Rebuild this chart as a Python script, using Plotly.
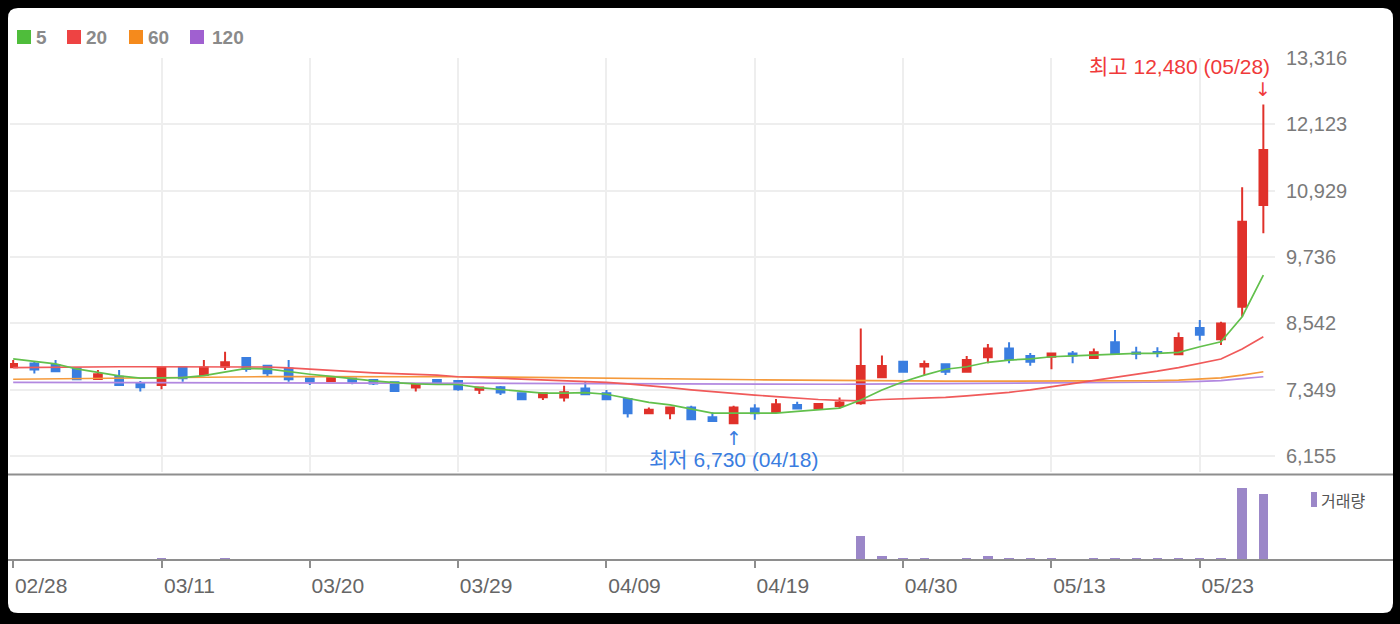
import plotly.graph_objects as go

# trading days shown on the chart (2024)
dates = ["02-28", "02-29",
         "03-04", "03-05", "03-06", "03-07", "03-08", "03-11", "03-12", "03-13", "03-14", "03-15",
         "03-18", "03-19", "03-20", "03-21", "03-22", "03-25", "03-26", "03-27", "03-28", "03-29",
         "04-01", "04-02", "04-03", "04-04", "04-05", "04-08", "04-09", "04-11", "04-12", "04-15",
         "04-16", "04-17", "04-18", "04-19", "04-22", "04-23", "04-24", "04-25", "04-26", "04-29",
         "04-30", "05-02", "05-03", "05-07", "05-08", "05-09", "05-10", "05-13", "05-14", "05-16",
         "05-17", "05-20", "05-21", "05-22", "05-23", "05-24", "05-27", "05-28"]

open_ = [7750, 7820, 7790, 7730, 7540, 7580, 7450, 7430, 7745, 7610,
         7760, 7915, 7780, 7730, 7550, 7505, 7550, 7520, 7480, 7385,
         7520, 7505, 7345, 7390, 7285, 7210, 7205, 7370, 7285, 7180,
         6925, 6925, 7025, 6850, 6745, 7010, 6945, 7070, 7010, 7055,
         7105, 7570, 7850, 7765, 7805, 7670, 7930, 8090, 7955, 7940,
         8000, 7915, 8200, 8015, 8025, 7985, 8455, 8255, 8840, 10670]
high = [7880, 7850, 7880, 7740, 7700, 7700, 7505, 7745, 7750, 7880,
        8030, 7915, 7790, 7880, 7550, 7570, 7555, 7525, 7500, 7445,
        7525, 7520, 7390, 7415, 7300, 7290, 7420, 7480, 7340, 7185,
        7025, 7030, 7060, 6940, 7060, 7085, 7180, 7130, 7095, 7205,
        8450, 7960, 7860, 7870, 7810, 7955, 8170, 8200, 8005, 8005,
        8045, 8090, 8420, 8120, 8110, 8375, 8600, 8570, 10990, 12480]
low = [7740, 7640, 7680, 7530, 7540, 7430, 7315, 7355, 7490, 7610,
       7700, 7670, 7580, 7490, 7430, 7500, 7445, 7430, 7320, 7315,
       7450, 7330, 7270, 7250, 7170, 7160, 7135, 7260, 7170, 6845,
       6920, 6815, 6810, 6780, 6730, 6805, 6940, 7005, 7000, 7010,
       7075, 7565, 7665, 7610, 7610, 7665, 7825, 7825, 7780, 7715,
       7825, 7910, 7985, 7895, 7930, 7965, 8230, 8150, 8660, 10160]
close = [7810, 7710, 7680, 7535, 7625, 7430, 7390, 7745, 7555, 7745,
         7840, 7720, 7645, 7535, 7490, 7565, 7490, 7460, 7325, 7445,
         7460, 7355, 7385, 7295, 7175, 7285, 7300, 7265, 7175, 6925,
         6985, 7025, 6815, 6785, 7025, 6925, 7085, 7010, 7090, 7115,
         7775, 7775, 7670, 7810, 7670, 7880, 8090, 7895, 7850, 8000,
         7960, 8020, 7990, 7995, 8005, 8275, 8335, 8540, 10370, 11660]

volume = [60, 50, 40, 70, 50, 60, 40, 200, 60, 50,
          210, 60, 50, 70, 40, 30, 40, 30, 60, 40,
          30, 40, 30, 40, 50, 30, 60, 40, 30, 70,
          40, 50, 60, 40, 80, 50, 60, 40, 50, 70,
          2400, 420, 230, 230, 80, 230, 400, 230, 90, 230,
          80, 230, 230, 100, 90, 230, 230, 230, 7200, 6600]

ma5 = [7900, 7850, 7810, 7720, 7660, 7595, 7555, 7555, 7565, 7600,
       7670, 7730, 7720, 7670, 7625, 7585, 7540, 7505, 7475, 7450,
       7440, 7440, 7385, 7355, 7315, 7285, 7285, 7295, 7265, 7195,
       7120, 7075, 7000, 6925, 6925, 6925, 6925, 6955, 6985, 7015,
       7160, 7342, 7490, 7610, 7715, 7760, 7840, 7880, 7900, 7940,
       7955, 7970, 7985, 8000, 8000, 8020, 8120, 8210, 8660, 9410]
ma20 = [7745, 7750, 7755, 7760, 7760, 7760, 7760, 7760, 7760, 7760,
        7765, 7765, 7755, 7740, 7715, 7690, 7670, 7650, 7635, 7620,
        7610, 7580, 7565, 7550, 7535, 7520, 7505, 7490, 7480, 7450,
        7420, 7385, 7345, 7310, 7280, 7250, 7222, 7195, 7170, 7155,
        7145, 7170, 7180, 7195, 7210, 7235, 7265, 7300, 7345, 7400,
        7460, 7520, 7570, 7620, 7680, 7745, 7820, 7900, 8080, 8300]
ma60 = [7535, 7540, 7545, 7550, 7555, 7560, 7565, 7568, 7572, 7575,
        7578, 7580, 7582, 7583, 7584, 7585, 7585, 7585, 7584, 7583,
        7582, 7580, 7577, 7574, 7570, 7566, 7562, 7558, 7554, 7550,
        7546, 7542, 7538, 7534, 7530, 7526, 7522, 7518, 7514, 7510,
        7507, 7504, 7502, 7500, 7500, 7500, 7500, 7500, 7500, 7500,
        7500, 7500, 7502, 7505, 7510, 7520, 7535, 7560, 7610, 7670]
ma120 = [7480, 7479, 7478, 7477, 7476, 7475, 7474, 7473, 7472, 7471,
         7470, 7469, 7468, 7467, 7466, 7464, 7462, 7460, 7458, 7456,
         7454, 7452, 7450, 7448, 7447, 7446, 7445, 7444, 7443, 7442,
         7441, 7440, 7440, 7440, 7440, 7440, 7441, 7442, 7443, 7445,
         7447, 7449, 7451, 7453, 7455, 7457, 7459, 7461, 7463, 7465,
         7467, 7469, 7471, 7474, 7478, 7485, 7495, 7510, 7545, 7580]

price_ticks = [6155, 7349, 8542, 9736, 10929, 12123, 13316]
tick_dates = ["02-28", "03-11", "03-20", "03-29", "04-09", "04-19", "04-30", "05-13", "05-23"]
tick_text = [d.replace("-", "/") for d in tick_dates]

ma_names = ["5", "20", "60", "120"]
ma_colors = ["#62c04c", "#f05a5a", "#f59a3c", "#b288e0"]
legend_colors = ["#4fbd3b", "#ee4343", "#f58a1c", "#a060d0"]
RED = "#e0312a"
BLUE = "#3a7ee0"
VOL = "#9b87c8"
FONT = "Liberation Sans, Noto Sans CJK KR, sans-serif"

# page geometry (pixels) used for placing layout decorations
L, R, T, B, W, H = 10, 125, 58, 64, 1400, 624
PW, PH = W - L - R, H - T - B


def px(x):
    return (x - L) / PW


def py(y):
    return (H - B - y) / PH


fig = go.Figure()

for vals, col in zip([ma120, ma60, ma20, ma5], ma_colors[::-1]):
    fig.add_trace(go.Scatter(x=dates, y=vals, mode="lines", line=dict(color=col, width=1.7),
                             hoverinfo="skip", showlegend=False))

fig.add_trace(go.Candlestick(
    x=dates, open=open_, high=high, low=low, close=close,
    increasing=dict(line=dict(color=RED, width=2), fillcolor=RED),
    decreasing=dict(line=dict(color=BLUE, width=2), fillcolor=BLUE),
    whiskerwidth=0, showlegend=False))

fig.add_trace(go.Bar(x=dates, y=volume, marker_color=VOL, marker_line_width=0, width=0.44,
                     xaxis="x2", yaxis="y2", showlegend=False))

# white card behind the chart
x0, x1, y0, y1 = px(8), px(1393), py(8), py(613)
rx, ry = 10 / PW, 10 / PH
card = (f"M {x0+rx},{y0} L {x1-rx},{y0} Q {x1},{y0} {x1},{y0-ry} L {x1},{y1+ry} "
        f"Q {x1},{y1} {x1-rx},{y1} L {x0+rx},{y1} Q {x0},{y1} {x0},{y1+ry} "
        f"L {x0},{y0-ry} Q {x0},{y0} {x0+rx},{y0} Z")
shapes = [dict(type="path", path=card, xref="paper", yref="paper", fillcolor="white",
               line_width=0, layer="below")]
for yy in (474.5, 560):
    shapes.append(dict(type="line", xref="paper", yref="paper", x0=px(8), x1=px(1393),
                       y0=py(yy), y1=py(yy), line=dict(color="#8e8e8e", width=2)))

annotations = []
sq_x = [17, 67, 129, 190]
txt_x = [34, 84, 146, 210]
for sx, tx, name, col in zip(sq_x, txt_x, ma_names, legend_colors):
    shapes.append(dict(type="rect", xref="paper", yref="paper", x0=px(sx), x1=px(sx + 14),
                       y0=py(30), y1=py(44), fillcolor=col, line_width=0))
    annotations.append(dict(xref="paper", yref="paper", x=px(tx), y=py(37), xanchor="left",
                            yanchor="middle", text=f"<b>{name}</b>", showarrow=False,
                            font=dict(family=FONT, size=19, color="#8a8a8a")))

# volume legend
shapes.append(dict(type="rect", xref="paper", yref="paper", x0=px(1311), x1=px(1317),
                   y0=py(492), y1=py(507), fillcolor=VOL, line_width=0))
annotations.append(dict(xref="paper", yref="paper", x=px(1319), y=py(500), xanchor="left",
                        yanchor="middle", text="거래량", showarrow=False,
                        font=dict(family="Noto Sans CJK KR", size=16, color="#555555")))

# high / low markers
hi_i = high.index(max(high))
lo_i = low.index(min(low))
hi_txt = f"최고 {max(high):,} ({dates[hi_i].replace('-', '/')})"
lo_txt = f"최저 {min(low):,} ({dates[lo_i].replace('-', '/')})"
annotations += [
    dict(x=dates[hi_i], y=max(high), xref="x", yref="y", text="↓", showarrow=False,
         yshift=15, font=dict(family="DejaVu Sans", size=19, color="#f03a3a")),
    dict(x=dates[hi_i], y=max(high), xref="x", yref="y", text=hi_txt, showarrow=False,
         xanchor="right", xshift=9, yshift=38, font=dict(family=FONT, size=21, color="#f03a3a")),
    dict(x=dates[lo_i], y=min(low), xref="x", yref="y", text="↑", showarrow=False,
         yshift=-14, font=dict(family="DejaVu Sans", size=19, color="#3a7de0")),
    dict(x=dates[lo_i], y=min(low), xref="x", yref="y", text=lo_txt, showarrow=False,
         yshift=-36, font=dict(family=FONT, size=21, color="#3a7de0")),
]

xr = [-0.15, len(dates) - 0.45]
fig.update_layout(
    width=W, height=H,
    margin=dict(l=L, r=R, t=T, b=B),
    paper_bgcolor="black",
    plot_bgcolor="white",
    boxgap=0.48,
    bargap=0,
    font=dict(family=FONT),
    hovermode=False,
    shapes=shapes,
    annotations=annotations,
    xaxis=dict(domain=[0, 1], anchor="y", type="category", range=xr, tickvals=tick_dates[1:],
               showticklabels=False, ticks="", showgrid=True, gridcolor="#eeeeee", gridwidth=1.5,
               zeroline=False, showline=False, rangeslider=dict(visible=False)),
    xaxis2=dict(domain=[0, 1], anchor="y2", type="category", range=xr, tickvals=tick_dates,
                ticktext=tick_text, ticks="outside", ticklen=7, tickwidth=1.5, tickcolor="#8e8e8e",
                showgrid=False, zeroline=False, showline=False, ticklabelshift=28,
                tickfont=dict(family=FONT, size=21, color="#666666")),
    yaxis=dict(domain=[0.175, 1], anchor="x", side="right", range=[5863, 13316],
               tickvals=price_ticks, tickformat=",d", showgrid=True, gridcolor="#eeeeee",
               gridwidth=1.5, zeroline=False, ticks="", ticklabelstandoff=10,
               tickfont=dict(family=FONT, size=20, color="#7a7a7a")),
    yaxis2=dict(domain=[0, 0.165], anchor="x2", range=[0, 8280], showticklabels=False,
                showgrid=False, zeroline=False),
)

# drop the default page margin so the figure sits at the window's corner
fig.write_html("out.html", config={"displayModeBar": False},
               post_script="document.body.style.margin='0';document.body.style.background='black';")
